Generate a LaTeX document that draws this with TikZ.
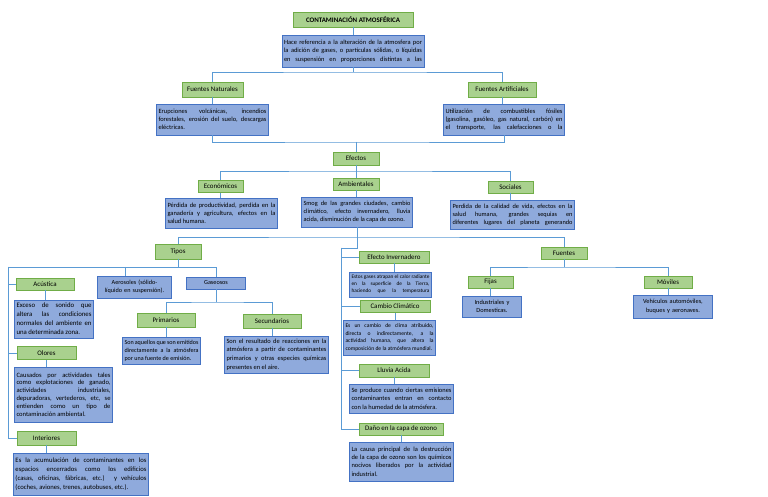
\documentclass[tikz,border=0pt]{standalone}
\usepackage{fontspec}
\setmainfont{Carlito}
\usetikzlibrary{positioning,shadows}
\definecolor{greenfill}{RGB}{169,209,142}
\definecolor{greenline}{RGB}{112,173,71}
\definecolor{bluefill}{RGB}{143,170,220}
\definecolor{blueline}{RGB}{68,114,196}
\definecolor{linkline}{RGB}{91,155,213}
\newdimen\px \px=0.3mm
\newcommand{\fsz}[2]{\fontsize{#1}{#2}\selectfont}
\newcommand{\fullend}{\parfillskip=0pt\par}
\hyphenpenalty=10000

\begin{document}
\begin{tikzpicture}[x=1\px,y=-1\px,
    green node/.style={rectangle,draw=greenline,fill=greenfill,line width=0.6pt,inner sep=1pt,
                       minimum height=12\px,font=\fsz{5.9}{6.5}},
    blue node/.style={rectangle,draw=blueline,fill=bluefill,line width=0.6pt,inner sep=2\px,align=justify,
                      drop shadow={shadow xshift=0.6pt,shadow yshift=-0.6pt,opacity=0.3}},
    link/.style={draw=linkline,line width=0.7pt}]

  \fill[white] (0,0) rectangle (768,497);

  \node[green node,minimum width=120\px,minimum height=15\px,font=\fsz{5.9}{6.5}\bfseries] (title) at (353,19.5) {CONTAMINACIÓN ATMOSFÉRICA};
  \node[blue node,text width=138\px,minimum height=32\px,font=\fsz{5.5}{7.4}] (def) at (353,51)
    {Hace referencia a la alteración de la atmosfera por\linebreak la adición de gases, o partículas sólidas, o líquidas\linebreak en suspensión en proporciones distintas a las\fullend};

  \node[green node,minimum width=61\px,minimum height=15\px] (nat) at (212.5,89.5) {Fuentes Naturales};
  \node[green node,minimum width=68\px,minimum height=15\px] (art) at (502,89.5) {Fuentes Artificiales};
  \node[blue node,text width=108\px,minimum height=31\px,font=\fsz{5.5}{7}] (natd) at (212.5,119.5)
    {Erupciones volcánicas, incendios\linebreak forestales, erosión del suelo, descargas\linebreak eléctricas.};
  \node[blue node,text width=117\px,minimum height=31\px,font=\fsz{5.5}{6.9}] (artd) at (504,119.5)
    {Utilización de combustibles fósiles\linebreak (gasolina, gasóleo, gas natural, carbón) en\linebreak el transporte, las calefacciones o la\fullend};

  \node[green node,minimum width=46\px,minimum height=13\px] (efectos) at (356,158.5) {Efectos};
  \node[green node,minimum width=45\px] (econ) at (220.5,186.5) {Económicos};
  \node[green node,minimum width=46\px] (amb) at (356,184) {Ambientales};
  \node[green node,minimum width=45\px] (soc) at (510.5,187) {Sociales};
  \node[blue node,text width=108\px,minimum height=30\px,font=\fsz{5.5}{6.9}] (econd) at (221.5,213)
    {Pérdida de productividad, perdida en la\linebreak ganadería y agricultura, efectos en la\linebreak salud humana.};
  \node[blue node,text width=107\px,minimum height=30\px,font=\fsz{5.4}{6.9}] (ambd) at (357,212)
    {Smog de las grandes ciudades, cambio\linebreak climático, efecto invernadero, lluvia\linebreak acida, disminución de la capa de ozono.};
  \node[blue node,text width=120\px,minimum height=29\px,font=\fsz{5.4}{6.8}] (socd) at (512.5,214.5)
    {Perdida de la calidad de vida, efectos en la\linebreak salud humana, grandes sequias en\linebreak diferentes lugares del planeta generando\fullend};

  \node[green node,minimum width=46\px,minimum height=15\px] (tipos) at (178,251.5) {Tipos};
  \node[green node,minimum width=58\px] (acus) at (45,284) {Acústica};
  \node[blue node,text width=70\px,minimum height=22\px,align=center,font=\fsz{5.3}{7}] (aeros) at (134.5,287)
    {Aerosoles (sólido-\\líquido en suspensión).};
  \node[blue node,text width=55\px,minimum height=12\px,align=center,font=\fsz{5.3}{6}] (gas) at (216,283) {Gaseosos};
  \node[blue node,text width=75\px,minimum height=38\px,font=\fsz{5.8}{7.7}] (acusd) at (54,319)
    {Exceso de sonido que\linebreak altera las condiciones\linebreak normales del ambiente en\linebreak una determinada zona.};
  \node[green node,minimum width=58\px,minimum height=14\px] (prim) at (166,320) {Primarios};
  \node[green node,minimum width=58\px,minimum height=14\px] (sec) at (272,321) {Secundarios};
  \node[blue node,text width=74\px,minimum height=27\px,font=\fsz{5.2}{6.8}] (primd) at (161.5,350.5)
    {Son aquellos que son emitidos\linebreak directamente a la atmósfera\linebreak por una fuente de emisión.};
  \node[blue node,text width=100\px,minimum height=37\px,font=\fsz{5.5}{7.4}] (secd) at (276.5,354.5)
    {Son el resultado de reacciones en la\linebreak atmósfera a partir de contaminantes\linebreak primarios y otras especies químicas\linebreak presentes en el aire.};
  \node[green node,minimum width=59\px,minimum height=13\px] (olores) at (46.5,353) {Olores};
  \node[blue node,text width=94\px,minimum height=55\px,font=\fsz{5.6}{6.7}] (olord) at (63.5,394.5)
    {Causados por actividades tales\linebreak como explotaciones de ganado,\linebreak actividades industriales,\linebreak depuradoras, vertederos, etc, se\linebreak entienden como un tipo de\linebreak contaminación ambiental.};
  \node[green node,minimum width=59\px,minimum height=14\px] (inter) at (46.5,438) {Interiores};
  \node[blue node,text width=131\px,minimum height=42\px,font=\fsz{5.7}{7.7}] (interd) at (81,474)
    {Es la acumulación de contaminantes en los\linebreak espacios encerrados como los edificios\linebreak (casas, oficinas, fábricas, etc.) y vehículos\linebreak (coches, aviones, trenes, autobuses, etc.).};

  \node[green node,minimum width=70\px] (ei) at (394,257) {Efecto Invernadero};
  \node[blue node,text width=78\px,minimum height=25\px,font=\fsz{4.5}{5.9}] (eid) at (390.5,284.5)
    {Estos gases atrapan el calor radiante\linebreak en la superficie de la Tierra,\linebreak haciendo que la temperatura\fullend};
  \node[green node,minimum width=70\px] (cc) at (395,306.5) {Cambio Climático};
  \node[blue node,text width=88\px,minimum height=35\px,font=\fsz{4.8}{6.5}] (ccd) at (389.5,337.5)
    {Es un cambio de clima atribuido,\linebreak directa o indirectamente, a la\linebreak actividad humana, que altera la\linebreak composición de la atmósfera mundial.};
  \node[green node,minimum width=70\px,minimum height=13\px] (la) at (394,370.5) {Lluvia Acida};
  \node[blue node,text width=100\px,minimum height=29\px,font=\fsz{5.5}{7.4}] (lad) at (401.5,398.5)
    {Se produce cuando ciertas emisiones\linebreak contaminantes entran en contacto\linebreak con la humedad de la atmósfera.};
  \node[green node,minimum width=84\px] (dano) at (401,429) {Daño en la capa de ozono};
  \node[blue node,text width=100\px,minimum height=39\px,font=\fsz{5.5}{7.1}] (danod) at (401.5,461.5)
    {La causa principal de la destrucción\linebreak de la capa de ozono son los químicos\linebreak nocivos liberados por la actividad\linebreak industrial.};

  \node[green node,minimum width=46\px] (fuentes) at (564,253) {Fuentes};
  \node[green node,minimum width=45\px] (fijas) at (490.5,282) {Fijas};
  \node[green node,minimum width=48\px] (moviles) at (668,282) {Móviles};
  \node[blue node,text width=55\px,minimum height=21\px,align=center,font=\fsz{5.4}{7.2}] (fijasd) at (492,306.5)
    {Industriales y\\Domesticas.};
  \node[blue node,text width=75\px,minimum height=23\px,align=center,font=\fsz{5.4}{7.2}] (movd) at (673,306.5)
    {Vehículos automóviles,\\buques y aeronaves.};

  \coordinate (b1) at (353,72);
  \coordinate (b2) at (356,142);
  \coordinate (b3) at (356,171);
  \coordinate (b4) at (357,237);
  \coordinate (b5) at (341,248);
  \coordinate (b6) at (8,267);
  \coordinate (b7) at (125,267);
  \coordinate (b8) at (216,302);
  \coordinate (b9) at (564,267);

  \draw[link] (title.south) -- (title.south |- def.north);
  \draw[link] (def.south) -- (b1);
  \draw[link] (nat.north) |- (b1) -| (art.north);
  \draw[link] (nat.south) -- (nat.south |- natd.north);
  \draw[link] (art.south) -- (art.south |- artd.north);
  \draw[link] (natd.south) |- (b2) -| (artd.south);
  \draw[link] (b2) -- (b2 |- efectos.north);
  \draw[link] (econ.north) |- (b3) -| (soc.north);
  \draw[link] (efectos.south) -- (efectos.south |- amb.north);
  \draw[link] (econ.south) -- (econ.south |- econd.north);
  \draw[link] (amb.south) -- (amb.south |- ambd.north);
  \draw[link] (soc.south) -- (soc.south |- socd.north);
  \draw[link] (tipos.north) |- (b4) -| (fuentes.north);
  \draw[link] (ambd.south -| b4) |- (b5) |- (dano.west);
  \draw[link] (b5) |- (ei.west);
  \draw[link] (b5) |- (cc.west);
  \draw[link] (b5) |- (la.west);
  \draw[link] (ei.south) -- (ei.south |- eid.north);
  \draw[link] (cc.south) -- (cc.south |- ccd.north);
  \draw[link] (la.south) -- (la.south |- lad.north);
  \draw[link] (dano.south) -- (dano.south |- danod.north);
  \draw[link] (tipos.south) -- (tipos.south |- b6);
  \draw[link] (gas.north) |- (b6) |- (inter.west);
  \draw[link] (b6) |- (acus.west);
  \draw[link] (b6) |- (olores.west);
  \draw[link] (b7) -- (b7 |- aeros.north);
  \draw[link] (acus.south) -- (acus.south |- acusd.north);
  \draw[link] (olores.south) -- (olores.south |- olord.north);
  \draw[link] (inter.south) -- (inter.south |- interd.north);
  \draw[link] (gas.south) -- (b8);
  \draw[link] (prim.north) |- (b8) -| (sec.north);
  \draw[link] (prim.south) -- (prim.south |- primd.north);
  \draw[link] (sec.south) -- (sec.south |- secd.north);
  \draw[link] (fuentes.south) -- (b9);
  \draw[link] (fijas.north) |- (b9) -| (moviles.north);
  \draw[link] (fijas.south) -- (fijas.south |- fijasd.north);
  \draw[link] (moviles.south) -- (moviles.south |- movd.north);
\end{tikzpicture}
\end{document}
